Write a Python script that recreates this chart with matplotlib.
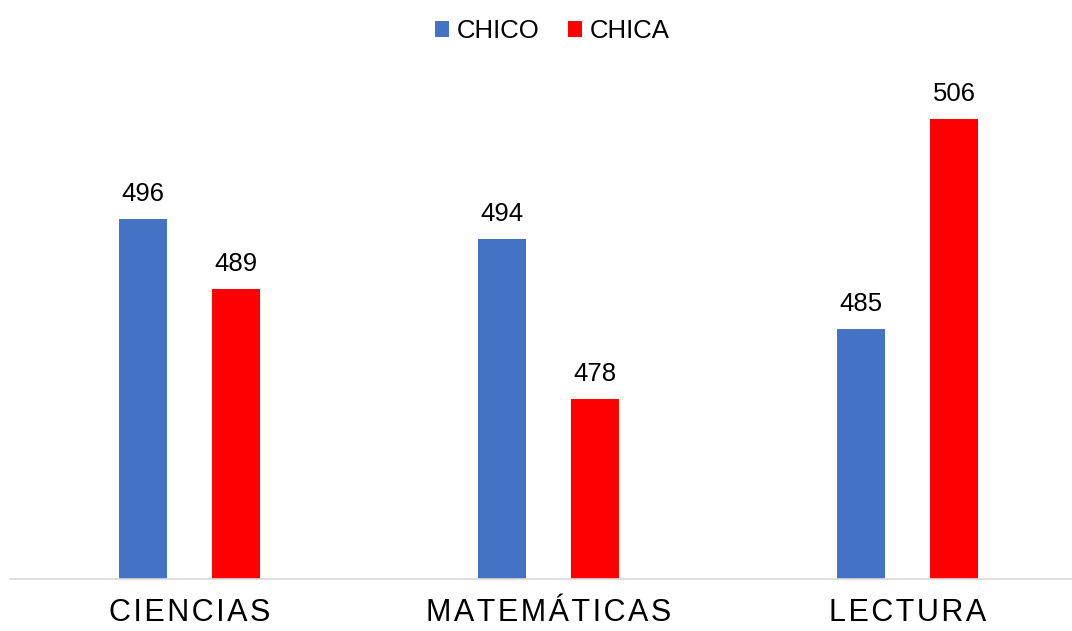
import numpy as np
import matplotlib.pyplot as plt

# puntuaciones por materia y sexo
materias = ["CIENCIAS", "MATEMÁTICAS", "LECTURA"]
chico = [496, 494, 485]
chica = [489, 478, 506]

plt.rcParams['font.family'] = ['Liberation Sans', 'DejaVu Sans']

fig = plt.figure(figsize=(10.72, 6.31), dpi=100)
# axes a mano para dejar sitio a la leyenda arriba
ax = fig.add_axes([10/1072, (631-578.5)/631, 1077/1072, (578.5-60)/631])

x = np.arange(len(materias))
w = 0.135
off = 0.13
b1 = ax.bar(x - off, chico, w, color="#4472C4", label="CHICO")
b2 = ax.bar(x + off, chica, w, color="#FF0000", label="CHICA")

for bars in (b1, b2):
    for b in bars:
        ax.annotate(f"{b.get_height():.0f}", (b.get_x() + b.get_width()/2, b.get_height()),
                    xytext=(0, 9), textcoords="offset points",
                    ha="center", va="bottom", fontsize=18.5)

ax.set_ylim(460, 511.85)
ax.set_xlim(-0.5, 2.5)
ax.set_xticks(x)
# letras algo separadas (hair space)
ax.set_xticklabels(["\u200a".join(m) for m in materias], fontsize=22)
ax.tick_params(axis="x", length=0, pad=14)
ax.set_yticks([])
for s in ["top", "right", "left"]:
    ax.spines[s].set_visible(False)
ax.spines["bottom"].set_color("#d9d9d9")
ax.spines["bottom"].set_linewidth(1.2)

fig.legend(loc="center", bbox_to_anchor=(552/1072, 1 - 31/631), ncol=2, frameon=False,
           fontsize=18.5, handlelength=0.55, handleheight=0.55, handletextpad=0.3,
           columnspacing=1.1)

fig.savefig("out.png", dpi=100)
